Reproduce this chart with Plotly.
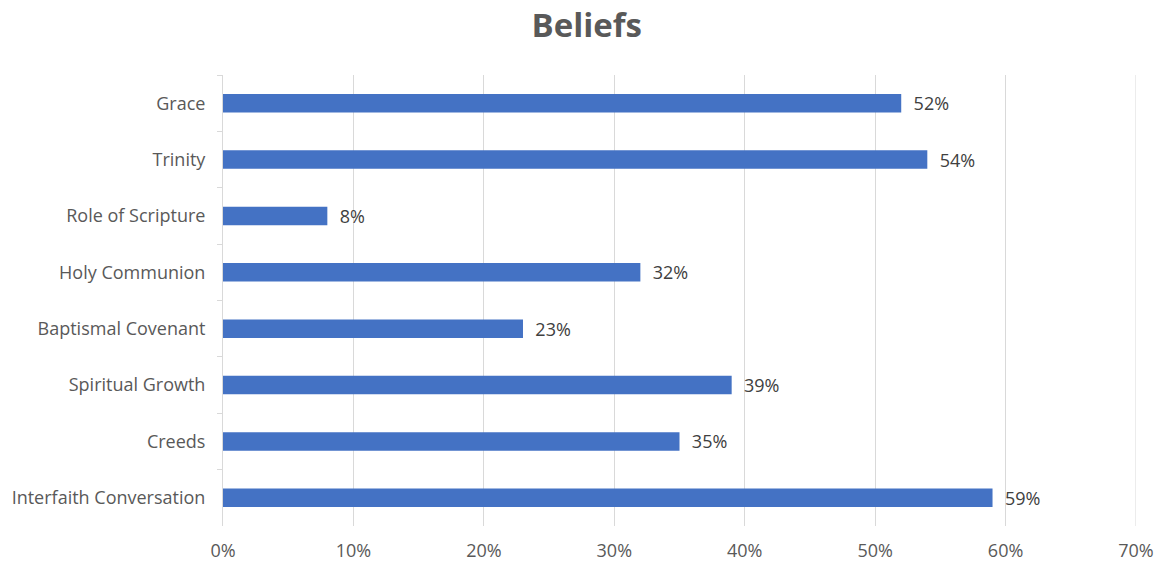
import plotly.graph_objects as go

categories = ["Grace", "Trinity", "Role of Scripture", "Holy Communion",
              "Baptismal Covenant", "Spiritual Growth", "Creeds",
              "Interfaith Conversation"]
values = [0.52, 0.54, 0.08, 0.32, 0.23, 0.39, 0.35, 0.59]
x_ticks = [0, 0.1, 0.2, 0.3, 0.4, 0.5, 0.6, 0.7]
x_tick_labels = ["0%", "10%", "20%", "30%", "40%", "50%", "60%", "70%"]

FONT = "Open Sans"

fig = go.Figure(go.Bar(
    x=values, y=categories, orientation="h",
    marker=dict(color="#4472C4", line=dict(width=0)),
    width=0.33,
    text=[f"  {round(v*100)}%" for v in values],
    textposition="outside",
    constraintext="none",
    textfont=dict(family=FONT, size=18, color="#404040"),
    cliponaxis=False,
))

fig.update_layout(
    width=1155, height=561,
    paper_bgcolor="white", plot_bgcolor="white",
    margin=dict(l=223, r=19, t=75, b=35, autoexpand=False),
    title=dict(text="<b>Beliefs</b>", x=0.508, xanchor="center", y=0.955, yanchor="middle",
               font=dict(family=FONT, size=33, color="#595959")),
    showlegend=False,
    font=dict(family=FONT, size=18, color="#595959"),
    shapes=[dict(type="line", xref="x", yref="paper", x0=x_ticks[-1], x1=x_ticks[-1],
                 y0=0, y1=1, line=dict(color="#d9d9d9", width=1), layer="below")],
)
fig.update_xaxes(range=[0, 0.7], tickvals=x_ticks, ticktext=x_tick_labels,
                 showgrid=True, gridcolor="#d9d9d9", gridwidth=1,
                 zeroline=False, showline=False, ticks="", automargin=False,
                 ticklabelstandoff=12,
                 tickfont=dict(family=FONT, size=18, color="#595959"))
fig.update_yaxes(autorange="reversed", showline=True, linecolor="#d9d9d9", linewidth=1,
                 ticks="outside", ticklen=5, tickcolor="#d9d9d9", tickson="boundaries",
                 showgrid=False, ticklabelstandoff=13, automargin=False,
                 tickfont=dict(family=FONT, size=18, color="#595959"))

fig.write_html("out.html")
